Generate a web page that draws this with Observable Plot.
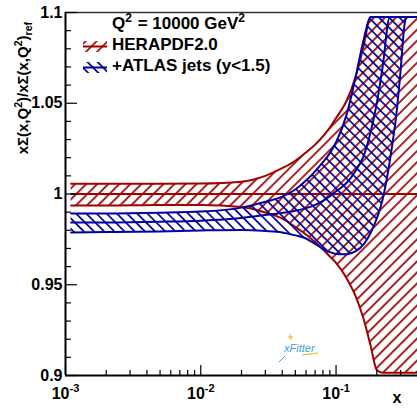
<!DOCTYPE html>
<html><head><meta charset="utf-8">
<script src="https://cdn.jsdelivr.net/npm/d3@7"></script>
<script src="https://cdn.jsdelivr.net/npm/@observablehq/plot@0.6"></script>
<style>
html,body{margin:0;padding:0;background:#fff;}
#chart svg{display:block;}
</style>
</head><body><div id="chart"></div>
<script>
// ---- data ----
const xs      = [0.0011, 0.002, 0.005, 0.01, 0.02, 0.03, 0.04, 0.05, 0.06, 0.07, 0.08, 0.09, 0.1, 0.12, 0.14, 0.16, 0.18, 0.2, 0.22, 0.25, 0.28, 0.3, 0.32, 0.33, 0.35, 0.4];
const heraHigh = [1.0057, 1.0057, 1.0057, 1.0058, 1.0068, 1.0100, 1.0142, 1.0183, 1.0229, 1.0272, 1.0318, 1.0366, 1.0418, 1.0515, 1.0650, 1.0815, 1.0975, 1.0975, 1.0975, 1.0975, 1.0975, 1.0975, 1.0975, 1.0975, 1.0975, 1.0975];
const heraMid  = [1, 1, 1, 1, 1, 1, 1, 1, 1, 1, 1, 1, 1, 1, 1, 1, 1, 1, 1, 1, 1, 1, 1, 1, 1, 1];
const heraLow  = [0.9937, 0.9937, 0.9940, 0.9940, 0.9928, 0.9898, 0.9865, 0.9818, 0.9777, 0.9735, 0.9694, 0.9656, 0.9620, 0.9534, 0.9435, 0.9310, 0.9165, 0.9030, 0.9015, 0.9015, 0.9015, 0.9015, 0.9015, 0.9015, 0.9015, 0.9015];
const atlasHigh = [0.9893, 0.9893, 0.9897, 0.9903, 0.9925, 0.9957, 0.9986, 1.0025, 1.0074, 1.0125, 1.0175, 1.0225, 1.0285, 1.0440, 1.0650, 1.0850, 1.0975, 1.0975, 1.0975, 1.0975, 1.0975, 1.0975, 1.0975, 1.0975, 1.0975, 1.0975];
const atlasMid  = [0.9843, 0.9843, 0.9847, 0.9853, 0.9868, 0.9884, 0.9896, 0.9908, 0.9922, 0.9940, 0.9962, 0.9988, 1.0015, 1.0062, 1.0130, 1.0210, 1.0340, 1.0500, 1.0690, 1.0975, 1.0975, 1.0975, 1.0975, 1.0975, 1.0975, 1.0975];
const atlasLow  = [0.9788, 0.9790, 0.9794, 0.9799, 0.9802, 0.9796, 0.9788, 0.9772, 0.9755, 0.9725, 0.9698, 0.9680, 0.9670, 0.9668, 0.9685, 0.9722, 0.9785, 0.9865, 0.9964, 1.0185, 1.0449, 1.0680, 1.0928, 1.0975, 1.0975, 1.0975];

const yMajor = [0.9, 0.95, 1, 1.05, 1.1];
const yTickLabels = ["0.9", "0.95", "1", "1.05", "1.1"];
const yMinor = [0.91, 0.92, 0.93, 0.94, 0.96, 0.97, 0.98, 0.99, 1.01, 1.02, 1.03, 1.04, 1.06, 1.07, 1.08, 1.09];
const xMajor = [0.001, 0.01, 0.1];
const xTickLabels = ["10^-3", "10^-2", "10^-1"];
const xMinor = [0.002, 0.003, 0.004, 0.005, 0.006, 0.007, 0.008, 0.009, 0.02, 0.03, 0.04, 0.05, 0.06, 0.07, 0.08, 0.09, 0.2, 0.3];

const legendTitle = ["Q", "2", " = 10000 GeV", "2"];
const seriesNames = ["HERAPDF2.0", "+ATLAS jets (y<1.5)"];
const yTitle = ["x\u03A3(x,Q", "2", ")/x\u03A3(x,Q", "2", ")", "ref"];

// ---- styling ----
const RED = "#a00000", BLUE = "#0000a0";
const W = 417, H = 410, mL = 65, mR = 0, mT = 12, mB = 35;
const fw = W - mL - mR, fh = H - mT - mB;
const FONT = "'Liberation Sans', Arial, Helvetica, sans-serif";

const rows = xs.map((x, i) => ({x, rlo: heraLow[i], rc: heraMid[i], rhi: heraHigh[i], blo: atlasLow[i], bc: atlasMid[i], bhi: atlasHigh[i]}));
const curve = "monotone-x";

const svg = Plot.plot({
  width: W, height: H,
  marginLeft: mL, marginRight: mR, marginTop: mT, marginBottom: mB,
  x: {type: "log", domain: [1e-3, 0.4]},
  y: {domain: [0.9, 1.1]},
  style: {fontFamily: FONT, fontWeight: "bold", fontSize: "16px", background: "white", color: "black"},
  marks: [
    Plot.areaY(rows, {x: "x", y1: "rlo", y2: "rhi", fill: "url(#hatchRed)", curve}),
    Plot.line(rows, {x: "x", y: "rhi", stroke: RED, strokeWidth: 2, curve}),
    Plot.line(rows, {x: "x", y: "rlo", stroke: RED, strokeWidth: 2, curve}),
    Plot.line(rows, {x: "x", y: "rc", stroke: RED, strokeWidth: 2, curve}),
    Plot.areaY(rows, {x: "x", y1: "blo", y2: "bhi", fill: "url(#hatchBlue)", curve}),
    Plot.line(rows, {x: "x", y: "bhi", stroke: BLUE, strokeWidth: 2, curve}),
    Plot.line(rows, {x: "x", y: "blo", stroke: BLUE, strokeWidth: 2, curve}),
    Plot.line(rows, {x: "x", y: "bc", stroke: BLUE, strokeWidth: 2, curve}),
    // frame lines
    Plot.ruleY([1.1], {stroke: "#333", strokeWidth: 1.5}),
    Plot.ruleX([1e-3], {stroke: "black", strokeWidth: 2}),
    Plot.ruleY([0.9], {stroke: "black", strokeWidth: 2}),
    // inward ticks
    Plot.tickY(yMinor, {y: d => d, insetRight: fw - 6, strokeWidth: 1.2}),
    Plot.tickY(yMajor, {y: d => d, insetRight: fw - 12, strokeWidth: 1.2}),
    Plot.tickX(xMinor, {x: d => d, insetTop: fh - 5, strokeWidth: 1.2}),
    Plot.tickX(xMajor, {x: d => d, insetTop: fh - 10, strokeWidth: 1.2}),
    // tick labels
    Plot.axisY(yMajor, {tickSize: 0, tickPadding: 3, label: null, fontSize: 16, fontWeight: "bold",
      tickFormat: d => yTickLabels[yMajor.indexOf(d)]}),
    Plot.axisX(xMajor, {tickSize: 0, tickPadding: 12, label: null, fontSize: 16, fontWeight: "bold",
      tickFormat: d => xTickLabels[xMajor.indexOf(d)]})
  ]
});

document.getElementById("chart").appendChild(svg);
const s = d3.select(svg);

// hatch patterns
const defs = s.insert("defs", ":first-child");
function hatch(id, color, size, angle) {
  const p = defs.append("pattern").attr("id", id).attr("patternUnits", "userSpaceOnUse")
    .attr("width", size).attr("height", size).attr("patternTransform", `rotate(${angle})`);
  p.append("line").attr("x1", size / 2).attr("x2", size / 2).attr("y1", -1).attr("y2", size + 1)
    .attr("stroke", color).attr("stroke-width", 1.7);
}
hatch("hatchRed", RED, 7.8, 45);
hatch("hatchBlue", BLUE, 7.2, -45);

// superscript x tick labels
s.selectAll('g[aria-label="x-axis tick label"] text').each(function() {
  const t = d3.select(this);
  const [base, exp] = t.text().split("^");
  t.text(null);
  t.append("tspan").text(base);
  t.append("tspan").attr("dy", -7).attr("font-size", 11).text(exp);
});

// y title
const yt = s.append("text").attr("transform", "translate(28,22) rotate(-90)")
  .attr("text-anchor", "end").attr("font-family", FONT).attr("font-weight", "bold").attr("font-size", 15);
yt.append("tspan").text(yTitle[0]);
yt.append("tspan").attr("dy", -6).attr("font-size", 10.5).text(yTitle[1]);
yt.append("tspan").attr("dy", 6).text(yTitle[2]);
yt.append("tspan").attr("dy", -6).attr("font-size", 10.5).text(yTitle[3]);
yt.append("tspan").attr("dy", 6).text(yTitle[4]);
yt.append("tspan").attr("dy", 4).attr("font-size", 10.5).text(yTitle[5]);

// x title
s.append("text").attr("x", 397).attr("y", 403).attr("text-anchor", "middle")
  .attr("font-family", FONT).attr("font-weight", "bold").attr("font-size", 16).text("x");

// legend
const lg = s.append("g").attr("font-family", FONT).attr("font-weight", "bold").attr("font-size", 17).attr("text-anchor", "start");
const lt = lg.append("text").attr("x", 112).attr("y", 29).attr("text-anchor", "start");
lt.append("tspan").text(legendTitle[0]);
lt.append("tspan").attr("dy", -7).attr("font-size", 12).text(legendTitle[1]);
lt.append("tspan").attr("dy", 7).attr("dx", 1).text(legendTitle[2]);
lt.append("tspan").attr("dy", -7).attr("font-size", 12).text(legendTitle[3]);
[[RED, "hatchRed", 46.5, 50], [BLUE, "hatchBlue", 67.5, 71]].forEach(([c, pat, cy, by], i) => {
  lg.append("rect").attr("x", 83).attr("y", cy - 5.5).attr("width", 24).attr("height", 11).attr("fill", `url(#${pat})`);
  lg.append("line").attr("x1", 83).attr("x2", 107).attr("y1", cy).attr("y2", cy).attr("stroke", c).attr("stroke-width", 2);
  lg.append("text").attr("x", 112).attr("y", by).attr("text-anchor", "start").text(seriesNames[i]);
});

// xFitter logo
const lo = s.append("g").attr("text-anchor", "start");
lo.append("text").attr("x", 284).attr("y", 352).attr("text-anchor", "start").attr("font-family", FONT).attr("font-style", "italic")
  .attr("font-weight", "normal").attr("font-size", 11).attr("fill", "#3aa0e0").text("xFitter");
lo.append("path").attr("d", "M290,334 L291,340 M288,337 L293,337").attr("stroke", "#f2b200").attr("stroke-width", 1).attr("fill", "none");
lo.append("path").attr("d", "M302,355 L318,353").attr("stroke", "#f2b200").attr("stroke-width", 1).attr("fill", "none");
lo.append("path").attr("d", "M279,362 L285,356").attr("stroke", "#3aa0e0").attr("stroke-width", 1).attr("fill", "none");
</script>
</body></html>
